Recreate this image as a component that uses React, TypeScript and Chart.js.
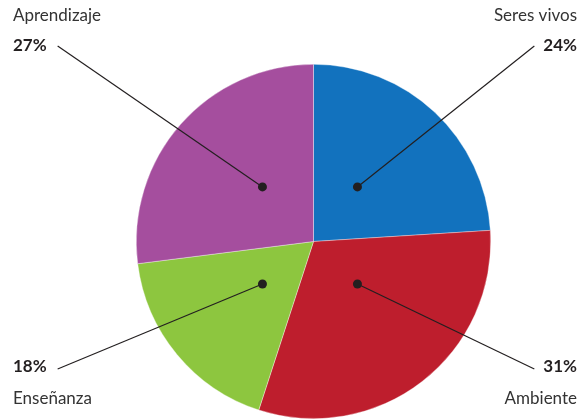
import React, { useEffect, useRef } from "react";
import { Chart, registerables } from "chart.js";

Chart.register(...registerables);

const categories = ["Seres vivos", "Ambiente", "Enseñanza", "Aprendizaje"];
const values = [24, 31, 18, 27];
const colors = ["#1272BE", "#BE1E2D", "#8DC63F", "#A54E9E"];

const FONT = "Lato, 'Noto Sans', sans-serif";
const INK = "#231F20";

const calloutPlugin = {
  id: "callouts",
  afterDraw(chart: any) {
    const ctx = chart.ctx;
    const meta = chart.getDatasetMeta(0);
    const W = chart.width;
    meta.data.forEach((arc: any, i: number) => {
      const { x, y, startAngle, endAngle, outerRadius } = arc.getProps(
        ["x", "y", "startAngle", "endAngle", "outerRadius"],
        true
      );
      const mid = (startAngle + endAngle) / 2;
      const sx = Math.cos(mid) >= 0 ? 1 : -1;
      const sy = Math.sin(mid) >= 0 ? 1 : -1;
      const right = sx > 0;
      const top = sy < 0;
      const d = outerRadius * 0.4;
      const dx = x + sx * d * (right ? 0.62 : 0.72);
      const dy = y + sy * d * (top ? 0.77 : 0.6);
      const pct = values[i] + "%";
      const name = categories[i];
      const tx = right ? W - 10 : 13;
      const pctY = top ? 51 : 372;
      const nameY = top ? 21 : 404;
      ctx.save();
      ctx.fillStyle = INK;
      ctx.textAlign = right ? "right" : "left";
      ctx.textBaseline = "alphabetic";
      ctx.font = `bold 17px ${FONT}`;
      const pw = ctx.measureText(pct).width;
      ctx.fillText(pct, tx, pctY);
      ctx.font = `17px ${FONT}`;
      ctx.fillStyle = "#333333";
      ctx.fillText(name, tx, nameY);
      const ex = right ? tx - pw - 9 : tx + pw + 11;
      const ey = top ? pctY - 5 : pctY - 3;
      ctx.strokeStyle = INK;
      ctx.lineWidth = 1.2;
      ctx.beginPath();
      ctx.moveTo(dx, dy);
      ctx.lineTo(ex, ey);
      ctx.stroke();
      ctx.fillStyle = INK;
      ctx.beginPath();
      ctx.arc(dx, dy, 4.5, 0, Math.PI * 2);
      ctx.fill();
      ctx.restore();
    });
  },
};

export default function App() {
  const ref = useRef<HTMLCanvasElement>(null);
  useEffect(() => {
    document.body.style.margin = "0";
    const chart = new Chart(ref.current!, {
      type: "pie",
      data: {
        labels: categories,
        datasets: [
          {
            data: values,
            backgroundColor: colors,
            borderColor: "rgba(255,255,255,0.6)",
            borderWidth: 0.6,
          },
        ],
      },
      options: {
        animation: false,
        responsive: false,
        maintainAspectRatio: false,
        layout: { padding: { left: 136, right: 96, top: 64, bottom: 1 } },
        plugins: {
          legend: { display: false },
          tooltip: { enabled: false },
        },
      },
      plugins: [calloutPlugin],
    });
    return () => chart.destroy();
  }, []);
  return (
    <div style={{ width: 587, height: 420, position: "relative" }}>
      <canvas ref={ref} width={587} height={420} style={{ width: 587, height: 420 }} />
    </div>
  );
}
